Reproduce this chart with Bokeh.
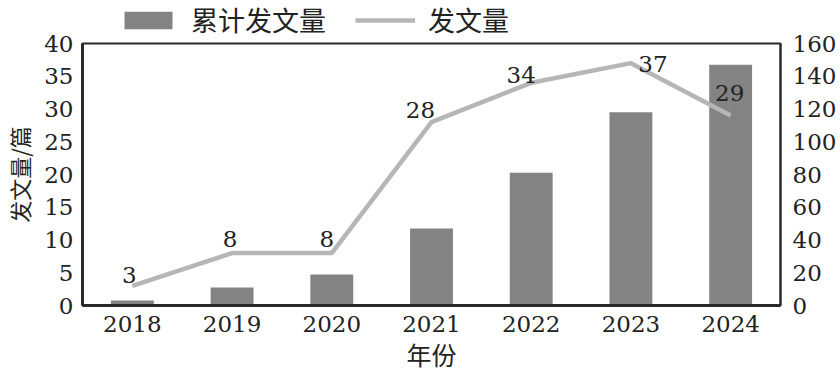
from bokeh.plotting import figure
from bokeh.layouts import column
from bokeh.core.properties import value
from bokeh.models import (LinearAxis, Range1d, FactorRange, ColumnDataSource,
                          Legend, LegendItem, SingleIntervalTicker, LabelSet)
from bokeh.embed import file_html
from bokeh.resources import INLINE

years = ["2018", "2019", "2020", "2021", "2022", "2023", "2024"]
annual = [3, 8, 8, 28, 34, 37, 29]
cumulative = [3, 11, 19, 47, 81, 118, 147]
series_names = ["累计发文量", "发文量"]

# label placement styling (screen pixels)
label_dx = [-3, -2, -5, -11, -10, 22, -1]
label_dy = [3, 6, 6, 4, 0, -9, 15]

NUM_FONT = "DejaVu Serif"
CJK_FONT = "Noto Sans CJK SC"
TXT = "#222222"
BAR = "#838383"
LINE = "#b6b6b6"

src = ColumnDataSource(dict(x=years, annual=annual, cum=cumulative,
                            lab=[str(v) for v in annual],
                            dx=label_dx, dy=label_dy))

p = figure(width=840, height=343, x_range=FactorRange(*years),
           y_range=Range1d(0, 40), output_backend="svg", toolbar_location=None,
           min_border_left=82, min_border_right=60, min_border_top=8,
           min_border_bottom=73)
p.extra_y_ranges = {"cum": Range1d(0, 160)}

bars = p.vbar(x="x", top="cum", width=0.43, source=src, y_range_name="cum",
              fill_color=BAR, line_color=None)
line = p.line(x="x", y="annual", source=src, line_color=LINE, line_width=4.5)

labels = LabelSet(x="x", y="annual", text="lab", source=src,
                  x_offset="dx", y_offset="dy",
                  text_align="center", text_baseline="alphabetic",
                  text_font=value(NUM_FONT), text_font_size="23px",
                  text_color=TXT)
p.add_layout(labels)

right = LinearAxis(y_range_name="cum", ticker=SingleIntervalTicker(interval=20))
p.add_layout(right, "right")
p.yaxis[0].ticker = SingleIntervalTicker(interval=5)

for ax in p.yaxis + p.xaxis:
    ax.major_tick_line_color = None
    ax.minor_tick_line_color = None
    ax.major_tick_out = 0
    ax.major_tick_in = 0
    ax.minor_tick_out = 0
    ax.minor_tick_in = 0
    ax.major_label_text_font = NUM_FONT
    ax.major_label_text_font_size = "23px"
    ax.major_label_text_color = TXT
    ax.axis_label_text_font = CJK_FONT
    ax.axis_label_text_font_size = "22px"
    ax.axis_label_text_font_style = "normal"
    ax.axis_label_text_color = TXT
    ax.axis_line_color = "#2a2a2a"
    ax.axis_line_width = 3
    ax.major_label_standoff = 9

right.axis_line_width = 2
right.major_label_standoff = 12
p.yaxis[0].axis_label = "发文量/篇"
p.yaxis[0].axis_label_standoff = 6
p.xaxis[0].axis_label = "年份"
p.xaxis[0].axis_label_text_font_size = "25px"
p.xaxis[0].axis_label_standoff = 1
p.xaxis[0].major_label_standoff = 10

p.xgrid.grid_line_color = None
p.ygrid.grid_line_color = None
p.outline_line_color = "#2a2a2a"
p.outline_line_width = 2

# legend strip above the chart
lg = figure(width=840, height=35, output_backend="svg", toolbar_location=None,
            x_axis_type=None, y_axis_type=None, min_border=0,
            min_border_left=0, min_border_right=0, min_border_top=0,
            min_border_bottom=0,
            x_range=Range1d(0, 1), y_range=Range1d(0, 1))
lg.outline_line_color = None
lg.xgrid.grid_line_color = None
lg.ygrid.grid_line_color = None
dummy = ColumnDataSource(dict(x=[-5], y=[-5], top=[-5]))
lbar = lg.vbar(x="x", top="top", width=0.1, source=dummy,
               fill_color=BAR, line_color=None)
lline = lg.line(x="x", y="y", source=dummy, line_color=LINE, line_width=4.5)

legend = Legend(items=[LegendItem(label=series_names[0], renderers=[lbar]),
                       LegendItem(label=series_names[1], renderers=[lline])],
                orientation="horizontal", location=(36, -4),
                label_text_font=CJK_FONT, label_text_font_size="27px",
                label_text_color=TXT, glyph_width=60, glyph_height=22,
                spacing=29, padding=4, margin=0, border_line_color=None,
                background_fill_alpha=0, label_standoff=13)
lg.add_layout(legend)

layout = column(lg, p, spacing=0)
open("out.html", "w").write(file_html(layout, INLINE))
